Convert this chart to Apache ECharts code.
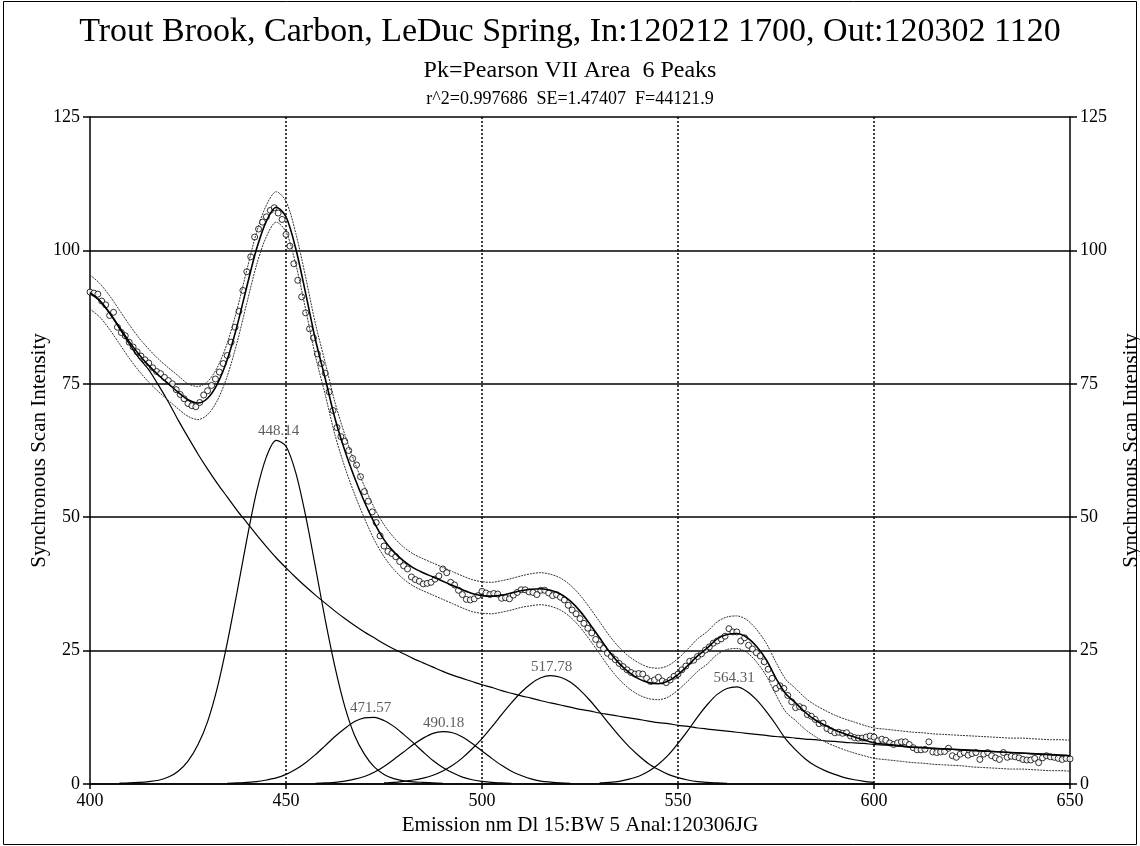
<!DOCTYPE html>
<html>
<head>
<meta charset="utf-8">
<title>Trout Brook synchronous scan</title>
<script src="https://cdn.jsdelivr.net/npm/echarts@6/dist/echarts.min.js"></script>
<style>
  html, body { margin: 0; padding: 0; background: #fff; }
  #chart { width: 1140px; height: 846px; }
</style>
</head>
<body>
<div id="chart"></div>
<script>
// measured scan, one point per nm from 400 to 650
var scanStart = 400, scanStep = 1;
var scanIntensity = [
  92.2, 92.0, 91.8, 90.5, 89.8, 87.8, 88.4, 85.6, 84.6, 84.0,
  82.8, 81.9, 81.0, 80.2, 79.5, 78.9, 78.0, 77.3, 76.9, 76.2,
  75.6, 75.0, 73.9, 73.0, 72.2, 71.3, 70.9, 70.7, 71.5, 72.9,
  73.7, 74.7, 75.9, 77.2, 78.8, 80.3, 82.8, 85.6, 88.6, 92.5,
  96.0, 98.8, 102.5, 104.0, 105.3, 106.3, 107.5, 108.0, 107.0, 105.8,
  103.0, 100.8, 97.5, 94.4, 91.3, 88.3, 85.3, 83.6, 80.6, 78.8,
  77.0, 73.5, 70.0, 66.8, 65.1, 64.2, 62.5, 61.0, 59.8, 57.6,
  54.8, 53.0, 51.0, 49.0, 46.5, 44.6, 43.6, 43.2, 42.6, 41.7,
  40.9, 40.3, 38.8, 38.3, 38.0, 37.5, 37.6, 37.8, 38.4, 39.0,
  40.3, 39.6, 37.8, 37.3, 36.3, 35.5, 34.6, 34.5, 34.7, 35.3,
  36.1, 35.8, 35.5, 35.7, 35.6, 34.8, 34.9, 34.7, 35.4, 35.9,
  36.4, 36.4, 36.0, 35.9, 35.5, 36.3, 36.3, 35.8, 35.3, 35.5,
  35.0, 34.5, 33.5, 32.6, 31.9, 31.0, 30.1, 29.2, 28.3, 27.1,
  26.1, 25.4, 24.5, 23.9, 23.3, 22.6, 22.0, 21.4, 20.9, 20.6,
  20.7, 20.6, 19.8, 19.2, 19.5, 20.0, 19.3, 19.0, 19.5, 20.2,
  20.6, 21.4, 22.1, 23.0, 23.2, 23.9, 24.4, 25.1, 25.7, 26.4,
  26.8, 27.2, 27.7, 29.1, 28.5, 28.5, 26.8, 27.4, 26.0, 25.3,
  24.6, 24.0, 22.9, 21.5, 19.8, 17.9, 18.4, 17.9, 16.6, 15.4,
  14.3, 14.5, 14.2, 13.0, 12.7, 12.1, 11.3, 11.4, 10.4, 10.0,
  9.6, 9.7, 9.5, 9.6, 9.0, 8.7, 8.6, 8.6, 8.8, 9.0,
  8.8, 8.1, 8.4, 8.2, 7.7, 7.4, 7.7, 7.9, 7.9, 7.4,
  6.8, 6.4, 6.4, 6.5, 7.9, 6.0, 5.9, 6.0, 6.1, 6.7,
  5.3, 5.0, 5.6, 5.9, 5.4, 5.7, 5.9, 4.6, 5.6, 5.9,
  5.3, 4.9, 4.6, 5.9, 5.0, 5.2, 5.1, 4.9, 4.6, 4.5,
  4.5, 4.8, 4.0, 4.9, 5.3, 5.1, 5.0, 4.8, 4.6, 4.8,
  4.7
];

// fitted curves, read every 2.5 nm from 400 to 650
var curveStart = 400, curveStep = 2.5;
var fitCurve = [
  92.1, 90.6, 88.3, 85.6, 82.9, 80.5, 78.4, 76.6, 75.0, 73.4,
  72.0, 71.4, 72.3, 75.0, 79.5, 85.8, 93.2, 100.3, 105.5, 108.1,
  106.3, 100.3, 92.0, 83.3, 76.0, 68.5, 62.5, 57.4, 52.9, 49.0,
  45.8, 43.5, 41.8, 40.5, 39.6, 38.8, 38.0, 37.2, 36.4, 35.7,
  35.3, 35.2, 35.4, 35.8, 36.2, 36.5, 36.6, 36.3, 35.6, 34.3,
  32.4, 30.0, 27.4, 24.8, 22.6, 20.9, 19.7, 19.0, 18.8, 19.3,
  20.5, 22.2, 24.0, 25.5, 27.2, 28.0, 28.2, 27.5, 25.8, 23.3,
  19.8, 16.9, 15.2, 13.4, 12.0, 11.0, 10.1, 9.4, 8.8, 8.2,
  7.7, 7.5, 7.3, 7.1, 6.9, 6.8, 6.7, 6.6, 6.5, 6.4,
  6.3, 6.2, 6.1, 6.0, 5.9, 5.8, 5.7, 5.6, 5.5, 5.4,
  5.3
];
var upperBand = [
  95.4, 93.8, 91.5, 88.8, 86.1, 83.6, 81.5, 79.6, 78.0, 76.5,
  75.0, 74.5, 75.4, 78.1, 82.6, 88.9, 96.3, 103.4, 108.5, 111.0,
  109.2, 103.2, 95.0, 86.3, 79.0, 71.5, 65.5, 60.3, 55.8, 51.8,
  48.6, 46.2, 44.4, 43.1, 42.2, 41.4, 40.6, 39.8, 39.0, 38.3,
  37.9, 37.8, 38.1, 38.5, 39.0, 39.4, 39.6, 39.3, 38.6, 37.3,
  35.4, 33.0, 30.4, 27.8, 25.6, 23.9, 22.7, 21.9, 21.7, 22.2,
  23.5, 25.3, 27.2, 28.6, 30.4, 31.3, 31.5, 30.8, 29.0, 26.4,
  22.8, 19.6, 17.9, 16.1, 14.8, 13.8, 12.9, 12.2, 11.6, 11.0,
  10.5, 10.3, 10.1, 9.9, 9.7, 9.6, 9.4, 9.3, 9.2, 9.1,
  9.0, 8.9, 8.8, 8.7, 8.6, 8.6, 8.5, 8.4, 8.3, 8.3,
  8.2
];
var lowerBand = [
  89.0, 87.5, 85.2, 82.5, 79.8, 77.4, 75.3, 73.5, 71.9, 70.3,
  68.9, 68.3, 69.2, 71.9, 76.4, 82.7, 90.1, 97.3, 102.6, 105.3,
  103.5, 97.4, 89.0, 80.2, 73.0, 65.4, 59.4, 54.3, 49.8, 45.8,
  42.6, 40.2, 38.4, 37.1, 36.2, 35.4, 34.6, 33.8, 33.0, 32.3,
  32.0, 31.9, 32.2, 32.6, 33.1, 33.4, 33.6, 33.3, 32.6, 31.3,
  29.4, 27.0, 24.4, 21.8, 19.6, 17.9, 16.7, 16.0, 15.8, 16.3,
  17.6, 19.3, 21.1, 22.5, 24.3, 25.2, 25.4, 24.7, 22.9, 20.3,
  16.7, 13.5, 11.9, 10.2, 8.9, 7.9, 7.1, 6.4, 5.8, 5.3,
  4.8, 4.6, 4.4, 4.2, 4.0, 3.9, 3.7, 3.6, 3.5, 3.4,
  3.2, 3.1, 3.0, 2.9, 2.8, 2.8, 2.7, 2.6, 2.5, 2.5,
  2.4
];
var baseline = [
  91.9, 90.5, 88.2, 85.4, 82.5, 79.8, 77.6, 74.7, 71.6, 68.2,
  65.0, 61.9, 59.0, 56.3, 53.8, 51.3, 49.0, 46.7, 44.5, 42.4,
  40.5, 38.7, 37.0, 35.4, 33.9, 32.4, 31.0, 29.7, 28.5, 27.4,
  26.3, 25.3, 24.4, 23.5, 22.7, 21.9, 21.1, 20.4, 19.8, 19.2,
  18.6, 18.1, 17.5, 17.0, 16.5, 16.1, 15.6, 15.2, 14.8, 14.4,
  14.0, 13.7, 13.3, 13.0, 12.7, 12.4, 12.1, 11.8, 11.5, 11.3,
  11.0, 10.8, 10.5, 10.3, 10.1, 9.9, 9.7, 9.5, 9.3, 9.1,
  8.9, 8.8, 8.6, 8.4, 8.3, 8.1, 8.0, 7.8, 7.7, 7.6,
  7.4, 7.3, 7.2, 7.0, 6.9, 6.8, 6.7, 6.6, 6.5, 6.4,
  6.3, 6.2, 6.1, 6.0, 5.9, 5.8, 5.7, 5.6, 5.5, 5.4,
  5.3
];

// fitted peaks, each from its own start wavelength, every 2.5 nm
var peakCenters = [448.14, 471.57, 490.18, 517.78, 564.31];
var peakHeights = [64.5, 12.6, 9.8, 20.3, 18.2];
var peakStarts = [407.5, 435, 457.5, 475, 530];
var peak448 = [0.15, 0.2, 0.3, 0.45, 0.7, 1.3, 2.4, 4.3, 7.3, 11.7, 18.1, 26.4, 35.9, 45.8, 54.8, 61.3, 64.4,
  63.3, 58.3, 50.3, 40.7, 30.8, 21.9, 14.5, 9.1, 5.6, 3.2, 1.8, 1.0, 0.6, 0.4, 0.3, 0.2, 0.1];
var peak471 = [0.1, 0.2, 0.3, 0.45, 0.75, 1.14, 1.8, 2.76, 4.0, 5.5, 7.2, 8.9, 10.4, 11.7, 12.4, 12.5,
  11.9, 10.8, 9.3, 7.7, 6.0, 4.4, 3.1, 2.1, 1.3, 0.8, 0.5, 0.3, 0.2, 0.1];
var peak490 = [0.1, 0.2, 0.3, 0.55, 0.9, 1.4, 2.2, 3.3, 4.6, 6.0, 7.4, 8.6, 9.5, 9.8, 9.6, 8.8, 7.6, 6.2,
  4.8, 3.5, 2.4, 1.6, 0.95, 0.55, 0.35, 0.2, 0.1];
var peak518 = [0.2, 0.3, 0.5, 0.75, 1.1, 1.63, 2.44, 3.5, 4.9, 6.6, 8.5, 10.7, 13.0, 15.2, 17.2, 18.8, 19.9,
  20.3, 20.0, 19.1, 17.6, 15.7, 13.5, 11.2, 9.0, 7.0, 5.3, 3.8, 2.7, 1.8, 1.2, 0.75, 0.45, 0.3, 0.2, 0.1];
var peak564 = [0.2, 0.3, 0.5, 0.9, 1.45, 2.37, 3.7, 5.4, 7.6, 10.0, 12.6, 14.9, 16.8, 17.9, 18.2, 17.4,
  15.8, 13.6, 11.1, 8.4, 6.4, 4.7, 3.4, 2.5, 1.8, 1.2, 0.8, 0.5, 0.3];
var peakCurves = [peak448, peak471, peak490, peak518, peak564];

var yTicks = [0, 25, 50, 75, 100, 125];
var xTicks = [400, 450, 500, 550, 600, 650];

var serif = '"Liberation Serif", "Times New Roman", serif';

function pairs(start, step, vals) {
  return vals.map(function (v, i) { return [start + i * step, v]; });
}

function lineSeries(data, style) {
  return {
    type: 'line',
    data: data,
    smooth: 0.3,
    showSymbol: false,
    symbol: 'none',
    silent: true,
    lineStyle: style
  };
}

var series = [];
var solid = { color: '#000', width: 1.2 };
var band = { color: '#333', width: 1, type: [2, 1] };

series.push(lineSeries(pairs(curveStart, curveStep, baseline), solid));
for (var i = 0; i < peakCurves.length; i++) {
  series.push(lineSeries(pairs(peakStarts[i], curveStep, peakCurves[i]), solid));
}
series.push(lineSeries(pairs(curveStart, curveStep, upperBand), band));
series.push(lineSeries(pairs(curveStart, curveStep, lowerBand), band));
series.push(lineSeries(pairs(curveStart, curveStep, fitCurve), { color: '#000', width: 1.6 }));

series.push({
  type: 'scatter',
  data: pairs(scanStart, scanStep, scanIntensity),
  symbol: 'circle',
  symbolSize: 6,
  silent: true,
  itemStyle: { color: '#fff', borderColor: '#000', borderWidth: 1 }
});

// peak position labels
series.push({
  type: 'scatter',
  data: peakCenters.map(function (c, i) { return { value: [c, peakHeights[i]], name: c.toFixed(2) }; }),
  symbolSize: 0,
  silent: true,
  label: {
    show: true,
    position: 'top',
    distance: 1,
    formatter: '{b}',
    fontFamily: serif,
    fontSize: 15,
    color: '#333'
  }
});

var yAxisBase = {
  type: 'value',
  min: 0,
  max: 125,
  interval: 25,
  name: 'Synchronous Scan Intensity',
  nameLocation: 'middle',
  nameRotate: 90,
  nameMoveOverlap: false,
  nameTextStyle: { fontFamily: serif, fontSize: 21, color: '#000' },
  axisLine: { show: true, lineStyle: { color: '#000', width: 1.5 } },
  axisTick: { show: true, inside: false, length: 7, lineStyle: { color: '#000', width: 1.5 } },
  axisLabel: {
    fontFamily: serif, fontSize: 18, color: '#000', margin: 10,
    formatter: function (v) { return yTicks.indexOf(v) >= 0 ? String(v) : ''; }
  }
};

var option = {
  animation: false,
  backgroundColor: '#fff',
  title: [
    {
      text: 'Trout Brook, Carbon, LeDuc Spring, In:120212 1700, Out:120302 1120',
      left: 'center', top: 10,
      textStyle: { fontFamily: serif, fontSize: 34, fontWeight: 'normal', color: '#000' }
    },
    {
      text: 'Pk=Pearson VII Area  6 Peaks',
      left: 'center', top: 54,
      textStyle: { fontFamily: serif, fontSize: 24, fontWeight: 'normal', color: '#000' }
    },
    {
      text: 'r^2=0.997686  SE=1.47407  F=44121.9',
      left: 'center', top: 85,
      textStyle: { fontFamily: serif, fontSize: 18, fontWeight: 'normal', color: '#000' }
    }
  ],
  grid: { left: 90, right: 70, top: 117, bottom: 62, outerBoundsMode: 'none' },
  xAxis: {
    type: 'value',
    min: 400,
    max: 650,
    interval: 50,
    name: 'Emission nm Dl 15:BW 5 Anal:120306JG',
    nameLocation: 'middle',
    nameGap: 31,
    nameMoveOverlap: false,
    nameTextStyle: { fontFamily: serif, fontSize: 21, color: '#000' },
    axisLine: { show: true, onZero: false, lineStyle: { color: '#000', width: 1.5 } },
    axisTick: { show: true, inside: false, length: 5, lineStyle: { color: '#000', width: 1.5 } },
    axisLabel: {
      fontFamily: serif, fontSize: 18, color: '#000', margin: 8,
      formatter: function (v) { return xTicks.indexOf(v) >= 0 ? String(v) : ''; }
    },
    splitLine: {
      show: true,
      showMinLine: false,
      showMaxLine: false,
      lineStyle: { color: '#000', width: 1.5, type: [2, 2] }
    }
  },
  yAxis: [
    Object.assign({}, yAxisBase, {
      position: 'left',
      nameGap: 40,
      splitLine: { show: true, lineStyle: { color: '#000', width: 1.5 } }
    }),
    Object.assign({}, yAxisBase, {
      position: 'right',
      nameGap: 51,
      splitLine: { show: false }
    })
  ],
  graphic: [
    {
      type: 'rect',
      shape: { x: 3.5, y: 1.5, width: 1133, height: 843 },
      style: { fill: 'none', stroke: '#000', lineWidth: 1 },
      silent: true
    }
  ],
  series: series
};

var chart = echarts.init(document.getElementById('chart'), null, { renderer: 'canvas' });
chart.setOption(option);
</script>
</body>
</html>
